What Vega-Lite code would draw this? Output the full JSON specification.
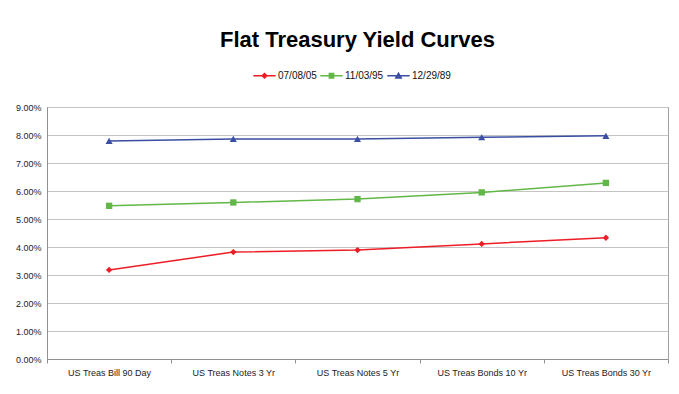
{
  "$schema": "https://vega.github.io/schema/vega-lite/v6.json",
  "width": 621,
  "height": 252,
  "autosize": "none",
  "padding": {"left": 47, "top": 107, "right": 11, "bottom": 35},
  "background": "white",
  "title": {
    "text": "Flat Treasury Yield Curves",
    "font": "Liberation Sans",
    "fontSize": 22,
    "fontWeight": "bold",
    "color": "#000000",
    "anchor": "middle",
    "frame": "group",
    "baseline": "alphabetic",
    "offset": -5
  },
  "config": {
    "view": {"stroke": "#A0A0A0", "strokeWidth": 1},
    "font": "Liberation Sans",
    "axis": {
      "labelFont": "Liberation Sans",
      "labelColor": "#222222",
      "titleFont": "Liberation Sans"
    }
  },
  "data": {
    "values": [
      {"maturity": "US Treas Bill 90 Day", "series": "07/08/05", "yield": 3.18},
      {"maturity": "US Treas Notes 3 Yr", "series": "07/08/05", "yield": 3.82},
      {"maturity": "US Treas Notes 5 Yr", "series": "07/08/05", "yield": 3.89},
      {"maturity": "US Treas Bonds 10 Yr", "series": "07/08/05", "yield": 4.11},
      {"maturity": "US Treas Bonds 30 Yr", "series": "07/08/05", "yield": 4.33},
      {"maturity": "US Treas Bill 90 Day", "series": "11/03/95", "yield": 5.47},
      {"maturity": "US Treas Notes 3 Yr", "series": "11/03/95", "yield": 5.59},
      {"maturity": "US Treas Notes 5 Yr", "series": "11/03/95", "yield": 5.71},
      {"maturity": "US Treas Bonds 10 Yr", "series": "11/03/95", "yield": 5.95},
      {"maturity": "US Treas Bonds 30 Yr", "series": "11/03/95", "yield": 6.29},
      {"maturity": "US Treas Bill 90 Day", "series": "12/29/89", "yield": 7.79},
      {"maturity": "US Treas Notes 3 Yr", "series": "12/29/89", "yield": 7.86},
      {"maturity": "US Treas Notes 5 Yr", "series": "12/29/89", "yield": 7.86},
      {"maturity": "US Treas Bonds 10 Yr", "series": "12/29/89", "yield": 7.92},
      {"maturity": "US Treas Bonds 30 Yr", "series": "12/29/89", "yield": 7.97}
    ]
  },
  "encoding": {
    "x": {
      "field": "maturity",
      "type": "nominal",
      "sort": null,
      "scale": {"type": "band", "paddingInner": 0, "paddingOuter": 0},
      "axis": {
        "title": null,
        "labelAngle": 0,
        "labelFontSize": 9,
        "labelPadding": 5,
        "domainColor": "#909090",
        "tickColor": "#909090",
        "tickSize": 4,
        "tickBand": "extent",
        "grid": false
      }
    },
    "y": {
      "field": "yield",
      "type": "quantitative",
      "scale": {"domain": [0, 9], "nice": false},
      "axis": {
        "title": null,
        "values": [0, 1, 2, 3, 4, 5, 6, 7, 8, 9],
        "labelExpr": "format(datum.value, '.2f') + '%'",
        "labelFontSize": 9,
        "labelPadding": 6,
        "ticks": false,
        "domainColor": "#909090",
        "gridColor": "#C4C4C4",
        "gridWidth": 1.2
      }
    },
    "color": {
      "field": "series",
      "type": "nominal",
      "sort": ["07/08/05", "11/03/95", "12/29/89"],
      "scale": {
        "domain": ["07/08/05", "11/03/95", "12/29/89"],
        "range": ["#EE1C25", "#62B846", "#3A4FA2"]
      },
      "legend": {
        "title": null,
        "orient": "none",
        "direction": "horizontal",
        "legendX": 206,
        "legendY": -43,
        "labelFont": "Liberation Sans",
        "labelFontSize": 10,
        "labelColor": "#111111",
        "labelOffset": 2,
        "columnPadding": 3,
        "symbolSize": 500,
        "symbolStrokeWidth": 0,
        "encode": {
          "symbols": {
            "update": {
              "shape": {"signal": "datum.value === '07/08/05' ? 'M-1,-0.07H1V0.07H-1Z M0,-0.3L0.3,0L0,0.3L-0.3,0Z' : datum.value === '11/03/95' ? 'M-1,-0.07H1V0.07H-1Z M-0.26,-0.26H0.26V0.26H-0.26Z' : 'M-1,-0.07H1V0.07H-1Z M0,-0.36L0.36,0.26L-0.36,0.26Z'"},
              "fill": {"scale": "color", "field": "value"},
              "fillOpacity": {"value": 1},
              "strokeWidth": {"value": 0}
            }
          }
        }
      }
    }
  },
  "layer": [
    {
      "mark": {"type": "line", "strokeWidth": 1.5}
    },
    {
      "transform": [{"filter": "datum.series === '07/08/05'"}],
      "mark": {"type": "point", "filled": true, "opacity": 1, "size": 40, "shape": "diamond"}
    },
    {
      "transform": [{"filter": "datum.series === '11/03/95'"}],
      "mark": {"type": "point", "filled": true, "opacity": 1, "size": 40, "shape": "square"}
    },
    {
      "transform": [{"filter": "datum.series === '12/29/89'"}],
      "mark": {"type": "point", "filled": true, "opacity": 1, "size": 50, "shape": "triangle-up"}
    }
  ]
}
